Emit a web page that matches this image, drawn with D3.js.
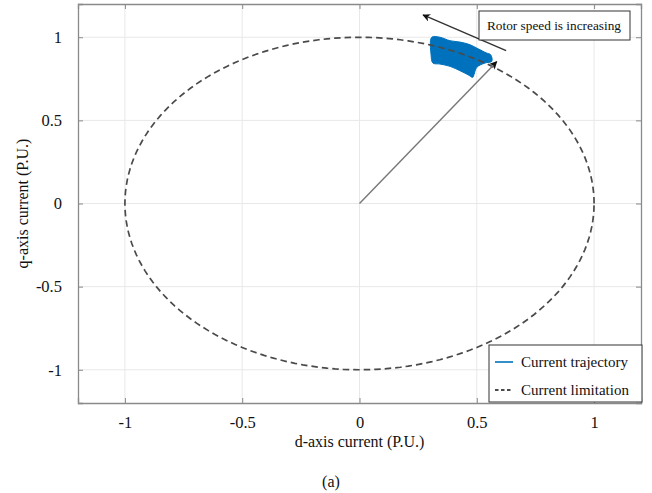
<!DOCTYPE html>
<html>
<head>
<meta charset="utf-8">
<script src="https://d3js.org/d3.v7.min.js"></script>
<style>
  body { margin: 0; background: #fff; }
  text { font-family: "Liberation Serif", "Times New Roman", serif; fill: #111; }
</style>
</head>
<body>
<script>
// tick values
var xTicks = [-1, -0.5, 0, 0.5, 1];
var yTicks = [-1, -0.5, 0, 0.5, 1];

// outline of the dense current trajectory (d, q)
var trajD = [0.308, 0.343, 0.386, 0.428, 0.471, 0.505, 0.542, 0.559, 0.564, 0.535, 0.500, 0.488, 0.483, 0.462, 0.428, 0.386, 0.343, 0.313, 0.305];
var trajQ = [1.000, 1.000, 0.979, 0.971, 0.955, 0.931, 0.905, 0.895, 0.855, 0.845, 0.819, 0.775, 0.759, 0.775, 0.799, 0.825, 0.839, 0.845, 0.895];

// current limit circle radius
var limitRadius = 1;

// arrows (from, to) in data units
var currentArrow = [[0, 0], [0.585, 0.853]];
var speedArrow = [[0.625, 0.919], [0.271, 1.134]];

var width = 652, height = 493;
var margin = {top: 4, right: 11, bottom: 90, left: 78};
var w = width - margin.left - margin.right,
    h = height - margin.top - margin.bottom;

var svg = d3.select("body").append("svg")
  .attr("width", width)
  .attr("height", height);

var defs = svg.append("defs");
defs.append("marker").attr("id", "ah").attr("viewBox", "0 0 10 10")
  .attr("refX", 9).attr("refY", 5).attr("markerWidth", 8).attr("markerHeight", 8)
  .attr("markerUnits", "userSpaceOnUse").attr("orient", "auto")
  .append("path").attr("d", "M0,0 L10,5 L0,10 L3,5 Z").attr("fill", "#111");
defs.append("clipPath").attr("id", "clip").append("rect")
  .attr("width", w).attr("height", h);

var g = svg.append("g").attr("transform", "translate(" + margin.left + "," + margin.top + ")");

var x = d3.scaleLinear().domain([-1.2, 1.2]).range([0, w]);
var y = d3.scaleLinear().domain([-1.2, 1.2]).range([h, 0]);

// grid
g.selectAll(".gx").data(xTicks).enter().append("line")
  .attr("x1", d => x(d)).attr("x2", d => x(d)).attr("y1", 0).attr("y2", h)
  .attr("stroke", "#e8e8e8").attr("stroke-width", 1);
g.selectAll(".gy").data(yTicks).enter().append("line")
  .attr("y1", d => y(d)).attr("y2", d => y(d)).attr("x1", 0).attr("x2", w)
  .attr("stroke", "#e8e8e8").attr("stroke-width", 1);

// axes
var fmt = d => String(d);
var axB = g.append("g").attr("transform", "translate(0," + h + ")")
  .call(d3.axisBottom(x).tickValues(xTicks).tickSize(-5).tickPadding(13).tickFormat(fmt));
var axL = g.append("g")
  .call(d3.axisLeft(y).tickValues(yTicks).tickSize(-5).tickPadding(16).tickFormat(fmt));
var axT = g.append("g")
  .call(d3.axisTop(x).tickValues(xTicks).tickSize(-5).tickFormat(""));
var axR = g.append("g").attr("transform", "translate(" + w + ",0)")
  .call(d3.axisRight(y).tickValues(yTicks).tickSize(-5).tickFormat(""));
[axB, axL, axT, axR].forEach(function(a) {
  a.select(".domain").attr("stroke", "#8a8a8a").attr("stroke-width", 1.3);
  a.selectAll(".tick line").attr("stroke", "#8a8a8a");
  a.selectAll(".tick text").style("font-size", "16.5px").attr("fill", "#111")
    .style("font-family", "'Liberation Serif', serif");
});
axB.selectAll(".tick text").attr("dy", "0.71em");

var plot = g.append("g").attr("clip-path", "url(#clip)");

// current limitation circle
var circ = d3.range(0, 361, 2).map(a => [limitRadius * Math.cos(a * Math.PI / 180), limitRadius * Math.sin(a * Math.PI / 180)]);
var line = d3.line().x(d => x(d[0])).y(d => y(d[1]));

// trajectory
var traj = trajD.map((d, i) => [d, trajQ[i]]);
plot.append("path").attr("d", line.curve(d3.curveCatmullRomClosed)(traj))
  .attr("fill", "#0072BD").attr("stroke", "#0072BD").attr("stroke-width", 1);
line.curve(d3.curveLinear);

plot.append("path").attr("d", line(circ))
  .attr("fill", "none").attr("stroke", "#4a4a4a").attr("stroke-width", 1.7)
  .attr("stroke-dasharray", "6.5,4");

// arrows
plot.append("path").attr("d", line(currentArrow))
  .attr("stroke", "#777").attr("stroke-width", 1.4).attr("marker-end", "url(#ah)");
plot.append("path").attr("d", line(speedArrow))
  .attr("stroke", "#333").attr("stroke-width", 1.4).attr("marker-end", "url(#ah)");

// annotation box
svg.append("rect").attr("x", 479).attr("y", 11).attr("width", 151).attr("height", 29)
  .attr("fill", "#fff").attr("stroke", "#333").attr("stroke-width", 1);
svg.append("text").attr("x", 554).attr("y", 30).attr("text-anchor", "middle")
  .style("font-size", "13.3px").text("Rotor speed is increasing");

// legend
var lg = svg.append("g");
lg.append("rect").attr("x", 489).attr("y", 345).attr("width", 153).attr("height", 57)
  .attr("fill", "#fff").attr("stroke", "#333").attr("stroke-width", 1);
var legendItems = [
  {name: "Current trajectory", color: "#0072BD", dash: null},
  {name: "Current limitation", color: "#111", dash: "3.5,2.5"}
];
legendItems.forEach(function(it, i) {
  var yy = 362 + i * 28;
  lg.append("line").attr("x1", 495).attr("x2", 513).attr("y1", yy).attr("y2", yy)
    .attr("stroke", it.color).attr("stroke-width", 1.6).attr("stroke-dasharray", it.dash);
  lg.append("text").attr("x", 521).attr("y", yy + 5).style("font-size", "15px").text(it.name);
});

// axis labels
svg.append("text").attr("x", margin.left + x(0)).attr("y", 447).attr("text-anchor", "middle")
  .style("font-size", "16px").text("d-axis current (P.U.)");
svg.append("text").attr("transform", "translate(28," + (margin.top + y(0)) + ") rotate(-90)")
  .attr("text-anchor", "middle").style("font-size", "16px").text("q-axis current (P.U.)");
svg.append("text").attr("x", 331).attr("y", 487).attr("text-anchor", "middle")
  .style("font-size", "16px").text("(a)");
</script>
</body>
</html>
